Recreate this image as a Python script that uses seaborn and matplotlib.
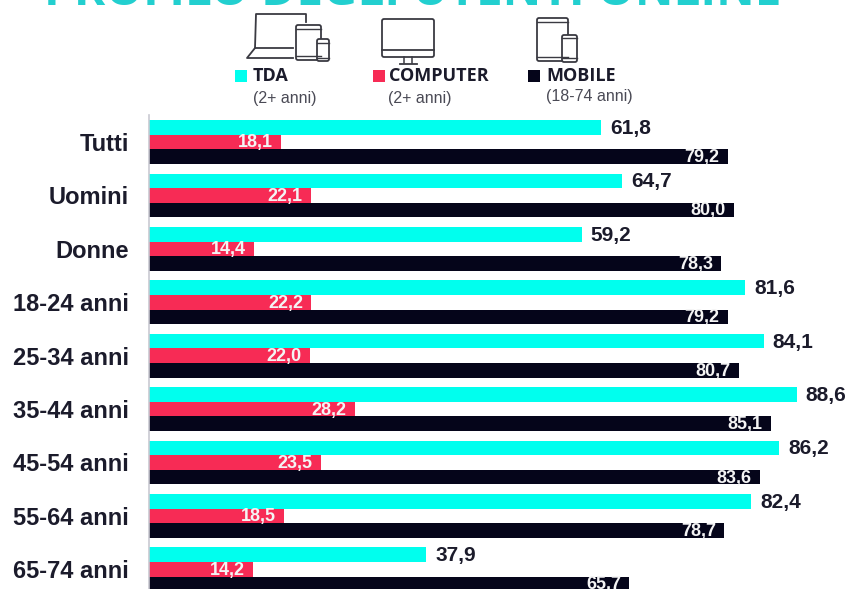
import pandas as pd
import matplotlib.pyplot as plt
from matplotlib.patches import FancyBboxPatch, Rectangle
import seaborn as sns

groups = ['Tutti', 'Uomini', 'Donne', '18-24 anni', '25-34 anni', '35-44 anni',
          '45-54 anni', '55-64 anni', '65-74 anni']
tda = [61.8, 64.7, 59.2, 81.6, 84.1, 88.6, 86.2, 82.4, 37.9]
computer = [18.1, 22.1, 14.4, 22.2, 22.0, 28.2, 23.5, 18.5, 14.2]
mobile = [79.2, 80.0, 78.3, 79.2, 80.7, 85.1, 83.6, 78.7, 65.7]
series = ['TDA', 'COMPUTER', 'MOBILE']
colors = ['#00FFEE', '#F72B55', '#05051A']

W, H = 847, 589
DARK = '#1B1B2B'
ICON = '#3A3A42'

df = pd.DataFrame({'group': groups, 'TDA': tda, 'COMPUTER': computer, 'MOBILE': mobile})
long_df = df.melt(id_vars='group', var_name='device', value_name='value')

plt.rcParams['font.family'] = ['Liberation Sans', 'DejaVu Sans']
fig = plt.figure(figsize=(W / 100, H / 100), dpi=100, facecolor='white')

# chart area in pixels: left 149, top 115, down to the bottom edge
ax = fig.add_axes([149 / W, 0, 1 - 149 / W, (H - 115) / H])
sns.barplot(data=long_df, x='value', y='group', hue='device', hue_order=series,
            palette=colors, saturation=1, width=0.82, legend=False, ax=ax)
ax.set_xlim(0, (W - 149) / 7.31)
ax.set_ylim(8.37, -0.506)
ax.set_xlabel('')
ax.set_ylabel('')
ax.xaxis.set_visible(False)
ax.tick_params(axis='y', length=0, pad=14.5)
for lab in ax.get_yticklabels():
    lab.set_fontsize(17)
    lab.set_fontweight('bold')
    lab.set_color(DARK)
sns.despine(ax=ax, bottom=True)
ax.spines['left'].set_color('#C9C9D2')
ax.spines['left'].set_linewidth(1.2)


def fmt(vals):
    return [f'{v:.1f}'.replace('.', ',') for v in vals]


for t in ax.bar_label(ax.containers[0], labels=fmt(tda), padding=6.5, fontsize=15,
                      fontweight='bold', color=DARK):
    t.xyann = (6.5, -0.7)
for cont, vals in zip(ax.containers[1:], [computer, mobile]):
    texts = ax.bar_label(cont, labels=fmt(vals), padding=-6.5, fontsize=13,
                         fontweight='bold', color='#F4F4F4')
    for t in texts:
        t.set_ha('right')
        t.xyann = (-6, -0.7)

# overlay in pixel coordinates for the heading, legend and icons
top = fig.add_axes([0, 0, 1, 1], facecolor='none')
top.set_xlim(0, W)
top.set_ylim(H, 0)
top.axis('off')

top.text(413, 5, 'PROFILO DEGLI UTENTI ONLINE', ha='center', va='baseline',
         fontsize=34.3, fontweight='bold', color='#22CFCF', family='Open Sans')

legend_x = [235, 373, 528]
text_x = [253, 389, 546]
for x, tx, name, col in zip(legend_x, text_x, series, colors):
    top.add_patch(Rectangle((x, 70), 11.5, 12, color=col, lw=0))
    top.text(tx, 76, name, ha='left', va='center', fontsize=13, fontweight='bold',
             color=DARK, family='Open Sans')
sub_x = [285, 420, 589]
sub_y = [99, 99, 96]
subs = ['(2+ anni)', '(2+ anni)', '(18-74 anni)']
for x, y, s in zip(sub_x, sub_y, subs):
    top.text(x, y, s, ha='center', va='center', fontsize=11.5, color='#4A4A55')


def device(x0, y0, x1, y1, y_a, y_b):
    top.add_patch(FancyBboxPatch((x0 + 2, y0 + 2), x1 - x0 - 4, y1 - y0 - 4,
                                 boxstyle='round,pad=2', fc='white', ec=ICON, lw=1.3))
    top.plot([x0, x1], [y_a, y_a], color=ICON, lw=1)
    top.plot([x0, x1], [y_b, y_b], color=ICON, lw=1)


# laptop, tablet, phone
top.plot([306, 306, 256, 255, 293], [22, 14, 14, 48, 48], color=ICON, lw=1.3)
top.plot([255, 247, 293], [48, 58, 58], color=ICON, lw=1.3)
device(296, 25, 321, 60, 29, 56)
device(317, 39, 329, 61, 43, 58)

# desktop monitor
top.add_patch(FancyBboxPatch((384, 21), 48, 34, boxstyle='round,pad=2',
                             fc='white', ec=ICON, lw=1.3))
top.plot([382, 434], [50, 50], color=ICON, lw=1.3)
top.plot([404, 404], [57, 63], color=ICON, lw=1.1)
top.plot([412, 412], [57, 63], color=ICON, lw=1.1)
top.plot([400, 417], [64, 64], color=ICON, lw=1.3)

# tablet and phone
device(537, 18, 568, 61, 22, 57)
device(562, 35, 577, 62, 38, 58)

fig.savefig('out.png', dpi=100)
